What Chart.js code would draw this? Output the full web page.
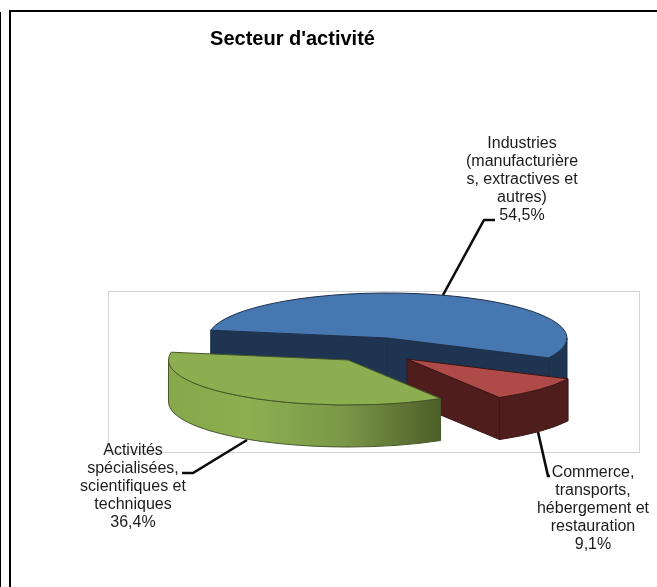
<!DOCTYPE html>
<html><head><meta charset="utf-8">
<style>html,body{margin:0;padding:0;background:#fff}canvas{display:block}</style>
<script src="https://cdn.jsdelivr.net/npm/chart.js@4"></script>
</head><body>
<canvas id="c" width="657" height="587"></canvas>
<script>
const titleText = "Secteur d'activité";
const categories = ["Industries (manufacturières, extractives et autres)", "Commerce, transports, hébergement et restauration", "Activités spécialisées, scientifiques et techniques"];
const values = [54.5, 9.1, 36.4];
const percentLabels = ["54,5%", "9,1%", "36,4%"];
const labelLines = [
  ["Industries", "(manufacturière", "s, extractives et", "autres)"],
  ["Commerce,", "transports,", "hébergement et", "restauration"],
  ["Activités", "spécialisées,", "scientifiques et", "techniques"]
];
const topColors = ["#4677B0", "#AE4A47", "#8CAE50"];
const wallColors = ["#1E3450", "#4F1E1C", "#8CAE50"];
const edgeColors = ["#1c2f49", "#3a1716", "#46582a"];

const TILT = 0.2507;
const depths = [46, 42, 42];
const explode = [[0, 0], [19.5, 21], [-39.5, 22]];
const labelPos = [[522, 144], [593, 473], [133, 451]];
const leaders = [
  [[443, 295], [484, 220], [495, 220]],
  [[538, 432], [548, 476], [550, 476]],
  [[247, 440], [193, 473], [182, 473]]
];

const scene = {
  id: "scene",
  beforeDatasetsDraw(chart) {
    const ctx = chart.ctx;
    ctx.save();
    ctx.strokeStyle = "#d4d4d4"; ctx.lineWidth = 1;
    ctx.strokeRect(108.5, 291.5, 531, 161);
    ctx.strokeStyle = "#000"; ctx.lineWidth = 2;
    ctx.beginPath(); ctx.moveTo(10, 587); ctx.lineTo(10, 11); ctx.lineTo(657, 11); ctx.stroke();
    ctx.beginPath(); ctx.moveTo(0, 12); ctx.lineTo(0, 587); ctx.stroke();
    ctx.restore();

    const arcs = chart.getDatasetMeta(0).data;
    arcs.forEach((arc, i) => {
      const [ox, oy] = explode[i];
      const DEPTH = depths[i];
      const cx = arc.x + ox, cy = arc.y + oy, R = arc.outerRadius;
      const pt = a => [cx + R * Math.cos(a), cy + R * TILT * Math.sin(a)];
      let a0 = arc.startAngle, a1 = arc.endAngle;
      ctx.save();
      ctx.lineWidth = 1; ctx.lineJoin = "round";
      ctx.strokeStyle = edgeColors[i];
      ctx.fillStyle = wallColors[i];
      const face = (p, q) => {
        ctx.beginPath(); ctx.moveTo(p[0], p[1]); ctx.lineTo(q[0], q[1]);
        ctx.lineTo(q[0], q[1] + DEPTH); ctx.lineTo(p[0], p[1] + DEPTH); ctx.closePath();
        ctx.fill(); ctx.stroke();
      };
      const c = [cx, cy];
      if (i === 0) { face(pt(a0), c); face(c, pt(a1)); }
      if (i === 1) { face(c, pt(a1)); }
      // outer wall, only the part that faces the viewer
      const twoPi = Math.PI * 2;
      let lo = a0, hi = a1;
      const k = Math.floor(lo / twoPi);
      let ranges = [[k * twoPi, k * twoPi + Math.PI], [(k + 1) * twoPi, (k + 1) * twoPi + Math.PI]];
      ranges.forEach(([r0, r1]) => {
        const s = Math.max(lo, r0), e = Math.min(hi, r1);
        if (e <= s) return;
        ctx.beginPath();
        ctx.ellipse(cx, cy, R, R * TILT, 0, s, e);
        ctx.ellipse(cx, cy + DEPTH, R, R * TILT, 0, e, s, true);
        ctx.closePath();
        if (i === 2) {
          const g = ctx.createLinearGradient(cx - R, 0, pt(s)[0], 0);
          g.addColorStop(0, "#86A84B"); g.addColorStop(0.3, "#8DAF50");
          g.addColorStop(0.65, "#7B9648"); g.addColorStop(1, "#4C5E27");
          ctx.fillStyle = g;
        }
        ctx.fill(); ctx.stroke();
      });
      // top of the slice, drawn by the arc element itself
      ctx.save();
      ctx.translate(cx, cy); ctx.scale(1, TILT); ctx.translate(-arc.x, -arc.y);
      arc.draw(ctx);
      ctx.restore();
      ctx.beginPath();
      ctx.moveTo(cx, cy);
      ctx.ellipse(cx, cy, R, R * TILT, 0, a0, a1);
      ctx.closePath();
      ctx.stroke();
      ctx.restore();
    });

    ctx.save();
    ctx.strokeStyle = "#0c0c0c"; ctx.lineWidth = 2.6; ctx.lineJoin = "miter";
    leaders.forEach(l => {
      ctx.beginPath();
      l.forEach((p, j) => j ? ctx.lineTo(p[0], p[1]) : ctx.moveTo(p[0], p[1]));
      ctx.stroke();
    });
    ctx.textAlign = "center"; ctx.textBaseline = "middle";
    ctx.fillStyle = "#000";
    ctx.font = "bold 20px 'Liberation Sans'";
    ctx.fillText(titleText, 292.5, 39);
    ctx.fillStyle = "#1c1c1c";
    ctx.font = "16px 'Liberation Sans'";
    labelLines.forEach((lines, i) => {
      const [x, y] = labelPos[i];
      lines.concat(percentLabels[i]).forEach((t, j) => ctx.fillText(t, x, y + j * 18));
    });
    ctx.restore();
    return false;
  }
};

new Chart(document.getElementById("c"), {
  type: "pie",
  data: { labels: categories, datasets: [{ data: values, backgroundColor: topColors, borderWidth: 0, hoverOffset: 0 }] },
  options: {
    responsive: false, animation: false, rotation: 280,
    layout: { padding: { left: 208, right: 90, top: 158.5, bottom: 69.5 } },
    events: [],
    plugins: { legend: { display: false }, title: { display: false }, tooltip: { enabled: false } }
  },
  plugins: [scene]
});
</script>
</body></html>
